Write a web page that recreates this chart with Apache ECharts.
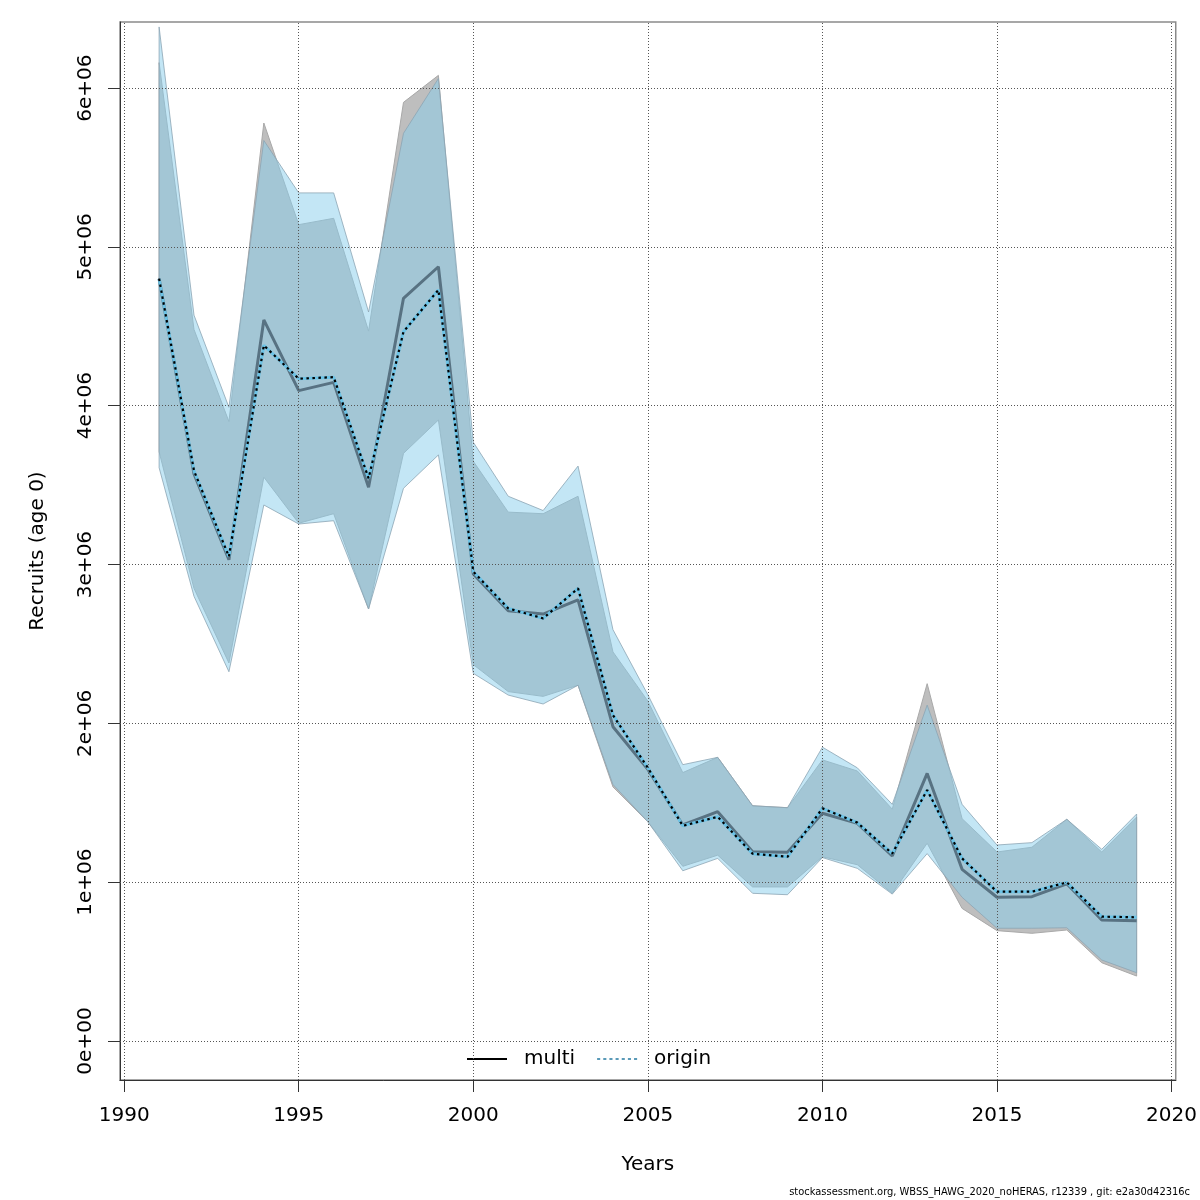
<!DOCTYPE html>
<html>
<head>
<meta charset="utf-8">
<script src="https://cdn.jsdelivr.net/npm/echarts@6/dist/echarts.min.js"></script>
<style>
  html, body { margin: 0; padding: 0; background: #fff; }
  #main { width: 1200px; height: 1200px; }
</style>
</head>
<body>
<div id="main"></div>
<script>
// recruits in millions
var years = [1991, 1992, 1993, 1994, 1995, 1996, 1997, 1998, 1999, 2000,
  2001, 2002, 2003, 2004, 2005, 2006, 2007, 2008, 2009, 2010,
  2011, 2012, 2013, 2014, 2015, 2016, 2017, 2018, 2019];

var multiLine = [4.80, 3.57, 3.03, 4.54, 4.095, 4.147, 3.486, 4.676, 4.875, 2.94,
  2.709, 2.688, 2.777, 1.979, 1.71, 1.36, 1.444, 1.192, 1.188, 1.434,
  1.37, 1.165, 1.685, 1.081, 0.905, 0.909, 0.99, 0.762, 0.757];
var multiUpper = [6.16, 4.48, 3.90, 5.78, 5.14, 5.18, 4.47, 5.91, 6.08, 3.65,
  3.33, 3.32, 3.43, 2.45, 2.14, 1.69, 1.786, 1.481, 1.469, 1.77,
  1.70, 1.46, 2.25, 1.40, 1.19, 1.22, 1.396, 1.19, 1.41];
var multiLower = [3.71, 2.85, 2.38, 3.55, 3.26, 3.32, 2.72, 3.70, 3.91, 2.37,
  2.20, 2.17, 2.24, 1.60, 1.38, 1.10, 1.17, 0.97, 0.97, 1.16,
  1.11, 0.93, 1.245, 0.835, 0.695, 0.678, 0.699, 0.493, 0.409];

var originLine = [4.80, 3.59, 3.05, 4.38, 4.17, 4.18, 3.543, 4.466, 4.729, 2.955,
  2.724, 2.661, 2.85, 2.052, 1.72, 1.355, 1.412, 1.179, 1.16, 1.465,
  1.375, 1.18, 1.58, 1.15, 0.94, 0.94, 0.999, 0.783, 0.779];
var originUpper = [6.385, 4.57, 3.99, 5.67, 5.34, 5.34, 4.59, 5.715, 6.06, 3.77,
  3.43, 3.34, 3.62, 2.59, 2.18, 1.74, 1.786, 1.481, 1.469, 1.85,
  1.72, 1.49, 2.115, 1.49, 1.234, 1.249, 1.396, 1.207, 1.429];
var originLower = [3.61, 2.80, 2.325, 3.375, 3.255, 3.276, 2.72, 3.48, 3.69, 2.315,
  2.178, 2.122, 2.24, 1.615, 1.38, 1.072, 1.15, 0.93, 0.921, 1.155,
  1.087, 0.925, 1.18, 0.905, 0.71, 0.71, 0.713, 0.51, 0.43];

var xTicks = [1990, 1995, 2000, 2005, 2010, 2015, 2020];
var yTicks = [0, 1, 2, 3, 4, 5, 6];

var FONT = 'DejaVu Sans';

function pairs(vals) {
  return years.map(function (y, i) { return [y, vals[i]]; });
}

// confidence band as one polygon: upper edge left->right, lower edge back
function bandSeries(name, up, low, fill, stroke) {
  return {
    name: name, type: 'custom', silent: true, clip: true,
    data: years.map(function (y, i) { return [y, up[i], low[i]]; }),
    encode: { x: 0, y: [1, 2] },
    renderItem: function (params, api) {
      if (params.dataIndex !== 0) return;
      var pts = [];
      for (var i = 0; i < years.length; i++) pts.push(api.coord([years[i], up[i]]));
      for (var j = years.length - 1; j >= 0; j--) pts.push(api.coord([years[j], low[j]]));
      return {
        type: 'polygon',
        shape: { points: pts },
        style: { fill: fill, stroke: stroke, lineWidth: 1 }
      };
    }
  };
}

var gridLines = xTicks.map(function (v) { return { xAxis: v }; })
  .concat(yTicks.map(function (v) { return { yAxis: v }; }));

var myChart = echarts.init(document.getElementById('main'), null, { renderer: 'canvas' });

var option = {
  animation: false,
  backgroundColor: '#fff',
  textStyle: { fontFamily: FONT },
  grid: {
    left: 120, right: 24, top: 22, bottom: 120,
    show: true, borderColor: '#8a8a8a', borderWidth: 1.5
  },
  legend: {
    left: 462, top: 1044,
    itemWidth: 40, itemHeight: 14, itemGap: 22,
    textStyle: { fontFamily: FONT, fontSize: 20, color: '#000', padding: [0, 0, 0, 12] },
    data: [
      { name: 'multi', icon: 'path://M0,6L40,6L40,8L0,8Z', itemStyle: { color: '#000' } },
      { name: 'origin', icon: 'path://M0,6L3,6L3,8L0,8ZM6,6L9,6L9,8L6,8ZM12,6L15,6L15,8L12,8ZM18,6L21,6L21,8L18,8ZM24,6L27,6L27,8L24,8ZM30,6L33,6L33,8L30,8ZM36,6L39,6L39,8L36,8Z',
        itemStyle: { color: '#5a9ab8' } }
    ]
  },
  xAxis: {
    type: 'value',
    min: 1989.88, max: 2020.12,
    name: 'Years',
    nameLocation: 'middle', nameGap: 75,
    nameTextStyle: { fontFamily: FONT, fontSize: 20, color: '#000' },
    axisLine: { show: true, onZero: false, lineStyle: { color: '#333', width: 1 } },
    axisTick: { show: true, length: 12, customValues: xTicks, lineStyle: { color: '#333' } },
    axisLabel: { customValues: xTicks, margin: 26, fontFamily: FONT, fontSize: 20, color: '#000',
      formatter: function (v) { return String(v); } },
    splitLine: { show: false }
  },
  yAxis: {
    type: 'value',
    min: -0.2455, max: 6.416,
    name: 'Recruits (age 0)',
    nameLocation: 'middle', nameGap: 72, nameRotate: 90,
    nameTextStyle: { fontFamily: FONT, fontSize: 20, color: '#000' },
    axisLine: { show: true, onZero: false, lineStyle: { color: '#333', width: 1 } },
    axisTick: { show: true, length: 12, customValues: yTicks, lineStyle: { color: '#333' } },
    axisLabel: { customValues: yTicks, rotate: 90, margin: 24, fontFamily: FONT, fontSize: 20, color: '#000',
      formatter: function (v) { return v === 0 ? '0e+00' : v + 'e+06'; } },
    splitLine: { show: false }
  },
  series: [
    bandSeries('multiBand', multiUpper, multiLower, '#bebebe', '#a9a9a9'),
    bandSeries('originBand', originUpper, originLower, 'rgba(135,206,235,0.5)', 'rgba(140,165,180,0.8)'),
    {
      name: 'multi', type: 'line', data: pairs(multiLine),
      symbol: 'none', lineStyle: { color: '#587282', width: 3 }
    },
    {
      name: 'originBg', type: 'line', data: pairs(originLine),
      symbol: 'none', lineStyle: { color: '#6cc3e6', width: 3 }
    },
    {
      name: 'origin', type: 'line', data: pairs(originLine),
      symbol: 'none', lineStyle: { color: '#000', width: 2.2, type: [2.5, 3.5] },
      markLine: {
        silent: true, symbol: ['none', 'none'], label: { show: false },
        lineStyle: { color: '#555', width: 1, type: [1, 2] },
        data: gridLines
      }
    }
  ],
  graphic: [
    {
      type: 'text', right: 10, top: 1187,
      style: { text: 'stockassessment.org, WBSS_HAWG_2020_noHERAS, r12339 , git: e2a30d42316c',
        font: '11px "DejaVu Sans Condensed"', fill: '#000' }
    }
  ]
};

myChart.setOption(option);
</script>
</body>
</html>
